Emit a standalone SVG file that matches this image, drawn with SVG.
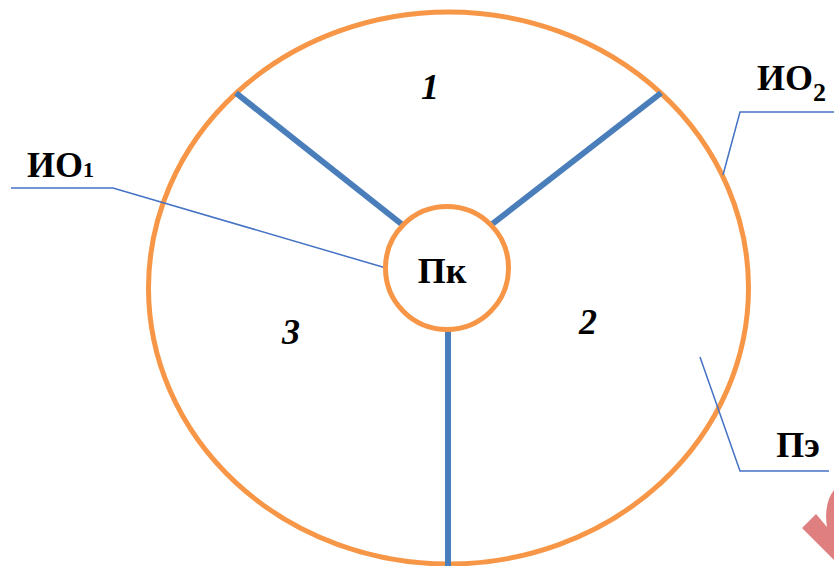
<svg xmlns="http://www.w3.org/2000/svg" width="834" height="566" viewBox="0 0 834 566">
<style>
.orange{fill:none;stroke:#f79646;stroke-width:5}
.spoke{stroke:#4a7ebb;stroke-width:6;fill:none}
.lead{stroke:#4472c4;stroke-width:1.5;fill:none}
.lbl{font-family:"Liberation Serif","Times New Roman",serif;font-weight:bold;font-size:36px;fill:#000}
.num{font-family:"Liberation Serif","Times New Roman",serif;font-weight:bold;font-style:italic;font-size:36px;fill:#000}
</style>
<rect width="834" height="566" fill="#fff"/>
<g id="outer">
<ellipse class="orange" cx="448.5" cy="288" rx="300" ry="276"/>
</g>
<g id="connectors">
<line class="spoke" x1="236" y1="93" x2="404" y2="226"/>
<line class="spoke" x1="661" y1="93" x2="491" y2="225"/>
<line class="spoke" x1="448" y1="330" x2="448" y2="566"/>
<polyline class="lead" points="11,188 113,188 386,268"/>
<polyline class="lead" points="834,112 740,112 723,175"/>
<polyline class="lead" points="700,357 740,471 829,471"/>
</g>
<g id="inner">
<circle cx="447" cy="268" r="61.5" fill="#fff" stroke="#f79646" stroke-width="5"/>
<text class="lbl" x="442" y="283" text-anchor="middle">Пк</text>
</g>
<g id="io1">
<text class="lbl" x="27" y="177">ИО<tspan font-size="22">1</tspan></text>
</g>
<g id="io2">
<text class="lbl" x="757" y="90">ИО<tspan font-size="26" dy="11">2</tspan></text>
</g>
<g id="pe">
<text class="lbl" x="798" y="457" text-anchor="middle">Пэ</text>
</g>
<g id="sector-labels">
<text class="num" x="430" y="99" text-anchor="middle">1</text>
<text class="num" x="588" y="334" text-anchor="middle">2</text>
<text class="num" x="291" y="344" text-anchor="middle">3</text>
</g>
<path d="M802,528 L816,514 L827,527 C825,515 826,500 834,490 L834,560 Z" fill="#df7f7f"/>
</svg>
